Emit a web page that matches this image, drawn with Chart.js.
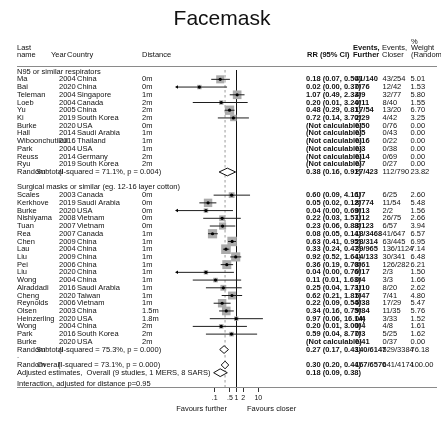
<!DOCTYPE html>
<html>
<head>
<meta charset="utf-8">
<script src="https://cdn.jsdelivr.net/npm/chart.js@4.4.1/dist/chart.umd.min.js"></script>
<style>
  html, body { margin: 0; padding: 0; background: #fff; }
  #wrap { width: 441px; height: 423px; position: relative; }
</style>
</head>
<body>
<div id="wrap"><canvas id="forest" width="441" height="423"></canvas></div>
<script>
// ---- Study data ----
const groupLabels = ['N95 or similar respirators', 'Surgical masks or similar (eg. 12-16 layer cotton)'];
const studyGroup = [0,0,0,0,0,0,0,0,0,0,0,0, 1,1,1,1,1,1,1,1,1,1,1,1,1,1,1,1,1,1,1,1];
const studyName = ['Ma','Bai','Teleman','Loeb','Yu','Ki','Burke','Hall','Wiboonchutikul','Park','Reuss','Ryu',
  'Scales','Kerkhove','Burke','Nishiyama','Tuan','Rea','Chen','Lau','Liu','Pei','Liu','Wong','Alraddadi','Cheng',
  'Reynolds','Olsen','Heinzerling','Wong','Park','Burke'];
const studyYear = [2004,2020,2004,2004,2005,2019,2020,2014,2016,2004,2014,2019,
  2003,2019,2020,2008,2007,2007,2009,2004,2009,2006,2020,2004,2016,2020,2006,2003,2020,2004,2016,2020];
const studyCountry = ['China','China','Singapore','Canada','China','South Korea','USA','Saudi Arabia','Thailand','USA','Germany','South Korea',
  'Canada','Saudi Arabia','USA','Vietnam','Vietnam','Canada','China','China','China','China','China','China','Saudi Arabia','Taiwan',
  'Vietnam','China','USA','China','South Korea','USA'];
const studyDistance = ['0m','0m','1m','2m','2m','2m','0m','1m','1m','1m','2m','2m',
  '0m','0m','0m','0m','0m','1m','1m','1m','1m','1m','1m','1m','1m','1m','1m','1.5m','1.8m','2m','2m','2m'];
const rrEst = [0.18,0.02,1.07,0.20,0.48,0.72,null,null,null,null,null,null,
  0.60,0.05,0.04,0.22,0.23,0.08,0.63,0.33,0.92,0.36,0.04,0.11,0.25,0.62,0.22,0.34,0.97,0.20,0.59,null];
const rrLow = [0.07,0.00,0.49,0.01,0.29,0.14,null,null,null,null,null,null,
  0.09,0.02,0.00,0.03,0.06,0.05,0.41,0.24,0.52,0.19,0.00,0.01,0.04,0.21,0.09,0.16,0.06,0.01,0.04,null];
const rrHigh = [0.50,0.37,2.33,3.24,0.81,3.70,null,null,null,null,null,null,
  4.16,0.12,0.69,1.57,0.88,0.14,0.95,0.47,1.64,0.70,0.76,1.63,1.73,1.81,0.54,0.75,16.14,3.00,8.77,null];
const eventsFurther = ['41/140','0/76','4/9','0/11','17/54','2/29','0/50','0/5','0/16','0/3','0/14','0/7',
  '1/7','8/774','0/13','1/12','3/123','18/3468','28/314','39/965','14/133','8/61','0/17','0/4','1/10','5/47',
  '5/38','9/84','0/4','0/4','0/3','0/41'];
const eventsCloser = ['43/254','12/42','32/77','8/40','13/20','4/42','0/76','0/43','0/22','0/38','0/69','0/27',
  '6/25','11/54','2/2','26/75','6/57','41/647','63/445','136/1124','30/341','126/282','2/3','3/3','8/20','7/41',
  '17/29','11/35','3/33','4/8','5/25','0/37'];
const weightPct = [5.01,1.53,5.80,1.55,6.70,3.25,0,0,0,0,0,0,
  2.60,5.48,1.56,2.66,3.94,6.57,6.95,7.14,6.48,6.21,1.50,1.66,2.62,4.80,5.47,5.76,1.52,1.61,1.62,0];

// ---- Pooled estimates ----
const subtotalHet = ['(I-squared = 71.1%, p = 0.004)', '(I-squared = 75.3%, p = 0.000)'];
const subtotalEst = [0.38, 0.27];
const subtotalLow = [0.16, 0.17];
const subtotalHigh = [0.91, 0.43];
const subtotalFurther = ['27/423', '140/6147'];
const subtotalCloser = ['112/790', '529/3384'];
const subtotalWeight = [23.82, 76.18];

const overallHet = '(I-squared = 73.1%, p = 0.000)';
const overallEst = 0.30, overallLow = 0.20, overallHigh = 0.44;
const overallFurther = '167/6570', overallCloser = '641/4174', overallWeight = 100.00;

const adjustedLabel = 'Adjusted estimates,  Overall (9 studies, 1 MERS, 8 SARS)';
const adjustedEst = 0.18, adjustedLow = 0.09, adjustedHigh = 0.38;
const interactionNote = 'Interaction, adjusted for distance p=0.95';

// ---- Axis ----
const axisTicks = [0.1, 0.5, 1, 2, 10];
const axisTickLabels = ['.1', '.5', '1', '2', '10'];
const favoursLabels = ['Favours further', 'Favours closer'];

const X_MIN = 0.0019, X_MAX = 526;
const Y_TOP = -0.21, Y_BOTTOM = 40.85;

// ---- Build row layout (one row per line of the table) ----
const rows = [];
let r = 0;
[0, 1].forEach(g => {
  rows.push({ kind: 'group', row: r++, g });
  studyName.forEach((_, i) => { if (studyGroup[i] === g) rows.push({ kind: 'study', row: r++, i }); });
  rows.push({ kind: 'subtotal', row: r++, g });
  rows.push({ kind: 'blank', row: r++ });
});
const overallRow = r++;
const adjustedRow = r++;
const interactionRow = adjustedRow + 1.45;

// ---- Datasets ----
const ciPts = [], boxPts = [], boxRad = [], dotPts = [], arrowPts = [];
rows.filter(o => o.kind === 'study').forEach(o => {
  const i = o.i;
  if (rrEst[i] === null) return;
  ciPts.push({ x: rrLow[i], y: o.row }, { x: rrHigh[i], y: o.row }, { x: NaN, y: NaN });
  boxPts.push({ x: rrEst[i], y: o.row });
  boxRad.push(3.6 * Math.sqrt(weightPct[i]) / (2 * Math.SQRT1_2));
  dotPts.push({ x: rrEst[i], y: o.row });
  if (rrLow[i] < X_MIN) arrowPts.push({ x: X_MIN, y: o.row });
});

function diamond(est, lo, hi, row) {
  const h = 0.5;
  return [{ x: lo, y: row }, { x: est, y: row - h }, { x: hi, y: row }, { x: est, y: row + h }, { x: lo, y: row }];
}
const subRows = rows.filter(o => o.kind === 'subtotal');
const diamondSets = [
  diamond(subtotalEst[0], subtotalLow[0], subtotalHigh[0], subRows[0].row),
  diamond(subtotalEst[1], subtotalLow[1], subtotalHigh[1], subRows[1].row),
  diamond(overallEst, overallLow, overallHigh, overallRow),
  diamond(adjustedEst, adjustedLow, adjustedHigh, adjustedRow)
];

const datasets = [
  { type: 'line', data: [{ x: 1, y: Y_TOP }, { x: 1, y: Y_BOTTOM }], borderColor: '#111', borderWidth: 1,
    pointRadius: 0, order: 20 },
  { type: 'line', data: [{ x: overallEst, y: Y_TOP }, { x: overallEst, y: Y_BOTTOM }], borderColor: '#bdbdbd',
    borderWidth: 1.5, borderDash: [2.5, 2.5], pointRadius: 0, order: 19 },
  { type: 'scatter', data: boxPts, pointStyle: 'rect', pointRadius: boxRad, backgroundColor: '#ababab',
    borderWidth: 0, order: 10 },
  { type: 'line', data: ciPts, borderColor: '#1e1e1e', borderWidth: 1, pointRadius: 0, spanGaps: false, order: 8 },
  { type: 'scatter', data: dotPts, pointStyle: 'circle', pointRadius: 1.6, backgroundColor: '#000',
    borderWidth: 0, order: 6 },
  { type: 'scatter', data: arrowPts, pointStyle: 'triangle', rotation: -90, pointRadius: 2, backgroundColor: '#000',
    borderWidth: 0, clip: false, order: 6 }
];
diamondSets.forEach(d => datasets.push({
  type: 'line', data: d, borderColor: '#111', borderWidth: 1, backgroundColor: '#fff', fill: 'shape',
  pointRadius: 0, order: 4
}));

// ---- Text table drawn alongside the plot ----
const FONT = '"Liberation Sans", Arial, Helvetica, sans-serif';
const TXT = 7.5;       // table font size (px)
const COL = { name: 17, year: 59, country: 77, dist: 142, rr: 306, evF: 355, evC: 382.5, wt: 410.5 };
const f2 = v => v.toFixed(2);
const rrText = (e, lo, hi) => `${f2(e)} (${f2(lo)}, ${f2(hi)})`;

const tablePlugin = {
  id: 'forestTable',
  afterDraw(chart) {
    const { ctx, chartArea } = chart;
    const py = v => chart.scales.y.getPixelForValue(v);
    const t = (s, x, y, bold, align) => {
      ctx.font = (bold ? 'bold ' : '') + TXT + 'px ' + FONT;
      ctx.textAlign = align || 'left';
      ctx.fillText(s, x, y);
    };
    ctx.save();
    ctx.fillStyle = '#111';
    ctx.textBaseline = 'middle';

    // title
    ctx.font = '21px ' + FONT;
    ctx.textAlign = 'center';
    ctx.fillText('Facemask', 222, 19);

    // column headers
    t('Last', COL.name, 47.7); t('name', COL.name, 55);
    t('Year', 51, 55); t('Country', 67, 55);
    t('Distance', COL.dist, 55);
    t('RR (95% CI)', 307, 55, true);
    t('Events,', 353, 48, true); t('Further', 353, 55, true);
    t('Events,', 382, 48); t('Closer', 382, 55);
    t('%', 411, 41.5); t('Weight', 411, 48); t('(Random)', 411, 55);

    // rules
    ctx.strokeStyle = '#8a8a8a';
    ctx.lineWidth = 1;
    ctx.beginPath();
    ctx.moveTo(17, 66.5); ctx.lineTo(437, 66.5);
    const yb = Math.round(chartArea.bottom) + 0.5;
    ctx.moveTo(17, yb); ctx.lineTo(437, yb);
    ctx.stroke();

    rows.forEach(o => {
      const y = py(o.row);
      if (o.kind === 'group') {
        t(groupLabels[o.g], COL.name, y);
      } else if (o.kind === 'study') {
        const i = o.i;
        t(studyName[i], COL.name, y);
        t(String(studyYear[i]), COL.year, y);
        t(studyCountry[i], COL.country, y);
        t(studyDistance[i], COL.dist, y);
        t(rrEst[i] === null ? '(Not calculable)' : rrText(rrEst[i], rrLow[i], rrHigh[i]), COL.rr, y, true);
        t(eventsFurther[i], COL.evF, y, true);
        t(eventsCloser[i], COL.evC, y);
        t(f2(weightPct[i]), COL.wt, y);
      } else if (o.kind === 'subtotal') {
        t('Random', COL.name, y);
        t('Subtotal', 36, y);
        t(subtotalHet[o.g], COL.year, y);
        t(rrText(subtotalEst[o.g], subtotalLow[o.g], subtotalHigh[o.g]), COL.rr, y, true);
        t(subtotalFurther[o.g], COL.evF, y, true);
        t(subtotalCloser[o.g], COL.evC, y);
        t(f2(subtotalWeight[o.g]), COL.wt, y);
      } else if (o.kind === 'blank' && o.row > 20) {
        t('.', COL.name, y - 1);
      }
    });

    let y = py(overallRow);
    t('Random', COL.name, y); t('Overall', 37, y); t(overallHet, 58, y);
    t(rrText(overallEst, overallLow, overallHigh), COL.rr, y, true);
    t(overallFurther, COL.evF, y, true);
    t(overallCloser, COL.evC, y);
    t(f2(overallWeight), COL.wt, y);

    y = py(adjustedRow);
    t(adjustedLabel, COL.name, y);
    t(rrText(adjustedEst, adjustedLow, adjustedHigh), COL.rr, y, true);

    t(interactionNote, COL.name, py(interactionRow));

    // direction labels under the axis
    t(favoursLabels[0], 227, 409, false, 'right');
    t(favoursLabels[1], 247, 409, false, 'left');
    ctx.restore();
  }
};

new Chart(document.getElementById('forest'), {
  type: 'scatter',
  data: { datasets },
  options: {
    responsive: false,
    animation: false,
    devicePixelRatio: 1,
    layout: { padding: { left: 177, right: 145, top: 70, bottom: 14 } },
    plugins: { legend: { display: false }, tooltip: { enabled: false }, title: { display: false } },
    events: [],
    scales: {
      x: {
        type: 'logarithmic',
        min: X_MIN, max: X_MAX,
        bounds: 'data',
        afterBuildTicks: s => { s.ticks = axisTicks.map(v => ({ value: v })); },
        afterFit: s => { s.height = 22; },
        ticks: {
          autoSkip: false, maxRotation: 0, padding: 2,
          font: { size: 7, family: FONT }, color: '#111',
          callback: (v, i) => axisTickLabels[i]
        },
        grid: { drawOnChartArea: false, drawTicks: true, tickLength: 5, color: '#333', lineWidth: 1 },
        border: { display: false }
      },
      y: { type: 'linear', reverse: true, min: Y_TOP, max: Y_BOTTOM, display: false }
    }
  },
  plugins: [tablePlugin]
});
</script>
</body>
</html>
